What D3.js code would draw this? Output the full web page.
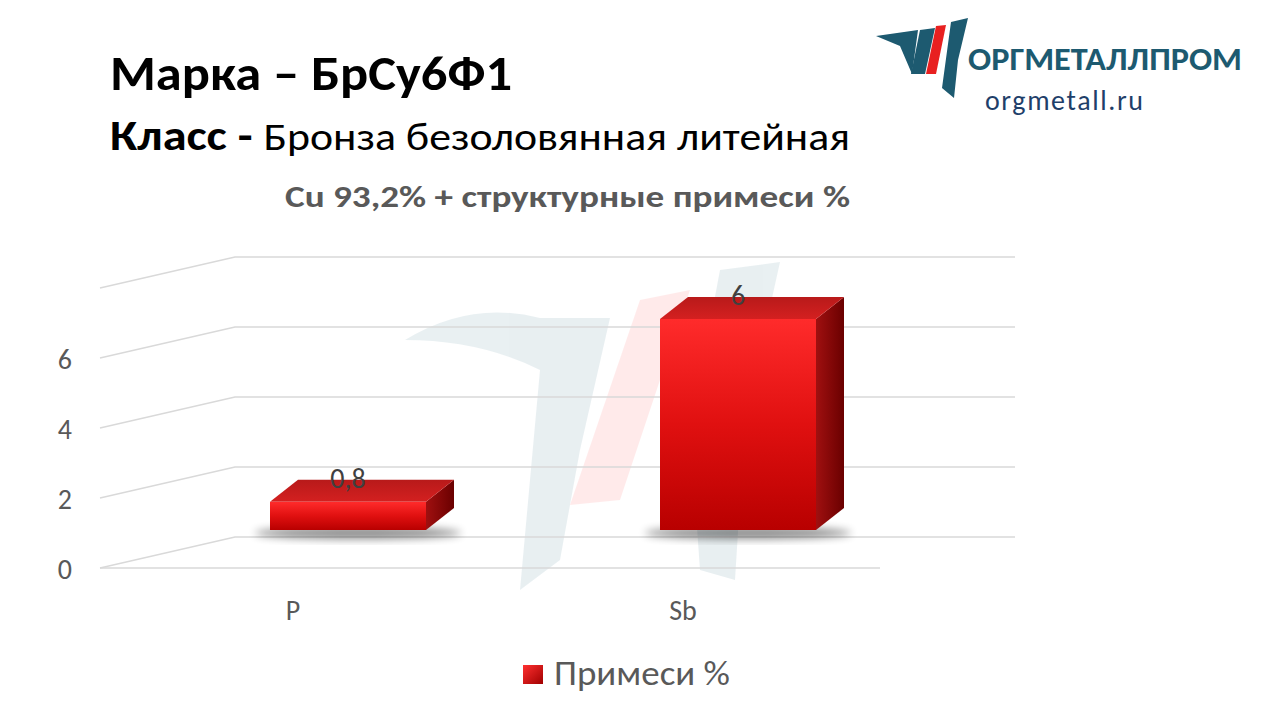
<!DOCTYPE html>
<html><head><meta charset="utf-8">
<script src="https://cdn.jsdelivr.net/npm/d3@7"></script>
<style>body{margin:0;background:#fff}svg{font-family:Calibri,"Open Sans","Liberation Sans",sans-serif}</style>
</head><body><svg id="c" width="1280" height="720"></svg>
<script>
var categories = ["P", "Sb"];
var values = [0.8, 6];
var valueLabels = ["0,8", "6"];
var yTicks = [0, 2, 4, 6, 8];
var seriesName = "Примеси %";

var svg = d3.select("#c");
var defs = svg.append("defs");

// gradients for the 3d bars
function grad(id, stops, x2, y2) {
    var g = defs.append("linearGradient").attr("id", id)
        .attr("x1", 0).attr("y1", 0).attr("x2", x2).attr("y2", y2);
    stops.forEach(function (s) { g.append("stop").attr("offset", s[0]).attr("stop-color", s[1]); });
}
grad("front", [[0, "#ff2b2b"], [0.5, "#e01010"], [1, "#b80000"]], 0, 1);
grad("side", [[0, "#a01010"], [1, "#6a0000"]], 1, 0);
grad("top", [[0, "#b81a1a"], [1, "#d42020"]], 0, 1);
grad("leg", [[0, "#ff3030"], [1, "#a00000"]], 1, 1);
var blur = defs.append("filter").attr("id", "sh").attr("x", "-20%").attr("y", "-50%").attr("width", "140%").attr("height", "200%");
blur.append("feGaussianBlur").attr("stdDeviation", 4);

// watermark logo
var wm = svg.append("g").attr("opacity", 0.1);
wm.append("path").attr("d", "M405,340 Q470,300 540,318 L610,318 L580,450 L560,560 L520,590 L540,370 Q480,340 405,340 Z").attr("fill", "#2a6a80");
wm.append("path").attr("d", "M640,300 L690,290 L620,500 L570,505 Z").attr("fill", "#ff4040");
wm.append("path").attr("d", "M720,270 L780,262 L745,420 L735,580 L700,570 L690,430 Z").attr("fill", "#2a6a80");

// 3d axes
var dx = 135, dy = -31, x0 = 100, x1 = 880;
var y = d3.scaleLinear().domain([0, 8]).range([568, 288]);
var grid = svg.append("g").attr("stroke", "#d9d9d9").attr("stroke-width", 1.3).attr("fill", "none");
yTicks.forEach(function (t) {
    grid.append("path").attr("d", "M" + x0 + "," + y(t) + " L" + (x0 + dx) + "," + (y(t) + dy) + " L" + (x1 + dx) + "," + (y(t) + dy));
});
grid.append("line").attr("x1", x0).attr("x2", x1).attr("y1", y(0)).attr("y2", y(0));

svg.append("g").selectAll("text").data(yTicks.slice(0, 4)).join("text")
    .attr("x", 72).attr("y", function (d) { return y(d) + 11; })
    .attr("text-anchor", "end").attr("font-size", 28).attr("fill", "#595959")
    .text(function (d) { return d; });

// bars
var x = d3.scaleBand().domain(categories).range([x0 + 53, x1 + 53]).paddingInner(0.6).paddingOuter(0.3);
var bY = d3.scaleLinear().domain([0, 6]).range([530, 319]);
var bdx = 28, bdy = -22;
var bars = svg.append("g");
categories.forEach(function (c, i) {
    var bx = x(c), bw = x.bandwidth(), top = bY(values[i]), bot = bY(0);
    bars.append("ellipse").attr("cx", bx + bw / 2 + 10).attr("cy", bot + 3).attr("rx", bw / 2 + 25).attr("ry", 6)
        .attr("fill", "#000").attr("opacity", 0.45).attr("filter", "url(#sh)");
    bars.append("path").attr("d", "M" + (bx + bw) + "," + top + " l" + bdx + "," + bdy + " L" + (bx + bw + bdx) + "," + (bot + bdy) + " L" + (bx + bw) + "," + bot + "Z").attr("fill", "url(#side)");
    bars.append("path").attr("d", "M" + bx + "," + top + " l" + bdx + "," + bdy + " h" + bw + " l" + (-bdx) + "," + (-bdy) + "Z").attr("fill", "url(#top)");
    bars.append("rect").attr("x", bx).attr("y", top).attr("width", bw).attr("height", bot - top).attr("fill", "url(#front)");
    svg.append("text").attr("x", bx + bw / 2).attr("y", top - 14).attr("text-anchor", "middle")
        .attr("font-size", 28).attr("fill", "#404040").text(valueLabels[i]);
    svg.append("text").attr("x", bx + 23).attr("y", 620).attr("text-anchor", "middle")
        .attr("font-size", 28).attr("fill", "#595959").text(c);
});

// legend
svg.append("rect").attr("x", 523).attr("y", 665).attr("width", 20).attr("height", 19).attr("fill", "url(#leg)");
svg.append("text").attr("x", 554).attr("y", 685).attr("font-size", 34).attr("fill", "#595959")
    .attr("textLength", 176).attr("lengthAdjust", "spacingAndGlyphs").text(seriesName);

// titles
svg.append("text").attr("x", 110).attr("y", 90).attr("font-size", 48).attr("font-weight", "bold")
    .attr("textLength", 402).attr("lengthAdjust", "spacingAndGlyphs").text("Марка – БрСу6Ф1");
var t2 = svg.append("text").attr("x", 110).attr("y", 150).attr("font-size", 42)
    .attr("textLength", 740).attr("lengthAdjust", "spacingAndGlyphs");
t2.append("tspan").attr("font-weight", "bold").text("Класс - ");
t2.append("tspan").attr("font-size", 38).text("Бронза безоловянная литейная");
svg.append("text").attr("x", 285).attr("y", 207).attr("font-size", 31)
    .attr("font-weight", "bold").attr("fill", "#595959").attr("textLength", 565)
    .attr("lengthAdjust", "spacingAndGlyphs").text("Cu 93,2% + структурные  примеси %");

// corner logo
var lg = svg.append("g");
lg.append("path").attr("d", "M876,36 L918,30 L912,74 L900,46 Z").attr("fill", "#1d5a70");
lg.append("path").attr("d", "M920,30 L935,28 L925,74 L911,74 Z").attr("fill", "#1d5a70");
lg.append("path").attr("d", "M936,26 L946,25 L936,74 L926,74 Z").attr("fill", "#e82020");
lg.append("path").attr("d", "M951,22 L968,18 L958,60 L954,98 L942,88 Z").attr("fill", "#1d5a70");
lg.append("text").attr("x", 968).attr("y", 70).attr("font-size", 32).attr("font-weight", 900)
    .attr("fill", "#1d5a70").attr("textLength", 274).attr("lengthAdjust", "spacingAndGlyphs").text("ОРГМЕТАЛЛПРОМ");
lg.append("text").attr("x", 985).attr("y", 110).attr("font-size", 28).attr("fill", "#1f3f6a")
    .attr("textLength", 158).text("orgmetall.ru");
</script></body></html>
